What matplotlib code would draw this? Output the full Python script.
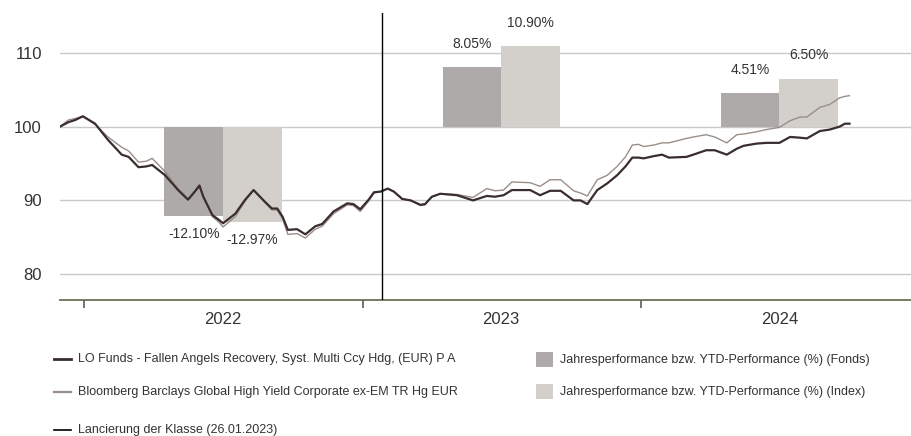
import matplotlib
matplotlib.use('Agg')
import matplotlib.pyplot as plt
import matplotlib.dates as mdates
from matplotlib.lines import Line2D
from matplotlib.patches import Rectangle
import numpy as np
import pandas as pd

plt.rcParams['font.family'] = ['Liberation Sans', 'DejaVu Sans']

# fund and index, rebased to 100
dates = ['2021-11-30', '2021-12-11', '2021-12-20', '2021-12-30', '2022-01-15', '2022-02-01',
         '2022-02-19', '2022-02-28', '2022-03-13', '2022-03-23', '2022-03-31', '2022-04-17',
         '2022-05-04', '2022-05-17', '2022-05-26', '2022-06-01', '2022-06-06', '2022-06-18',
         '2022-06-26', '2022-07-02', '2022-07-18', '2022-07-31', '2022-08-11', '2022-08-26',
         '2022-09-04', '2022-09-11', '2022-09-18', '2022-09-25', '2022-10-07', '2022-10-18',
         '2022-10-31', '2022-11-09', '2022-11-24', '2022-12-12', '2022-12-20', '2022-12-29',
         '2023-01-09', '2023-01-16', '2023-01-25', '2023-02-03', '2023-02-11', '2023-02-22',
         '2023-03-05', '2023-03-18', '2023-03-24', '2023-04-02', '2023-04-13', '2023-05-05',
         '2023-05-26', '2023-06-13', '2023-06-24', '2023-07-05', '2023-07-16', '2023-08-09',
         '2023-08-22', '2023-09-04', '2023-09-18', '2023-10-05', '2023-10-14', '2023-10-23',
         '2023-11-05', '2023-11-18', '2023-12-01', '2023-12-12', '2023-12-21', '2023-12-29',
         '2024-01-05', '2024-01-18', '2024-01-29', '2024-02-07', '2024-03-01', '2024-03-10',
         '2024-03-27', '2024-04-07', '2024-04-23', '2024-05-06', '2024-05-15', '2024-06-01',
         '2024-06-14', '2024-07-01', '2024-07-15', '2024-07-28', '2024-08-06', '2024-08-23',
         '2024-09-05', '2024-09-18', '2024-09-25', '2024-10-01']
fund = [100.0, 100.6, 100.9, 101.4, 100.4, 98.2,
        96.2, 95.9, 94.5, 94.6, 94.8, 93.4,
        91.4, 90.1, 91.2, 92.0, 90.5, 88.0,
        87.4, 86.9, 88.2, 90.1, 91.4, 89.8,
        88.9, 88.9, 87.8, 86.0, 86.1, 85.4,
        86.5, 86.8, 88.5, 89.6, 89.5, 88.8,
        90.1, 91.1, 91.2, 91.6, 91.2, 90.2,
        90.0, 89.4, 89.5, 90.5, 90.9, 90.7,
        90.0, 90.6, 90.5, 90.7, 91.4, 91.4,
        90.7, 91.3, 91.3, 90.0, 90.0, 89.5,
        91.4, 92.3, 93.4, 94.6, 95.8, 95.8,
        95.7, 96.0, 96.2, 95.8, 95.9, 96.2,
        96.8, 96.8, 96.2, 97.0, 97.4, 97.7,
        97.8, 97.8, 98.6, 98.5, 98.4, 99.4,
        99.6, 100.0, 100.4, 100.4]
index = [100.0, 100.9, 101.1, 101.4, 100.3, 98.6,
         97.2, 96.7, 95.2, 95.3, 95.7, 93.9,
         91.6, 90.2, 91.3, 92.2, 90.6, 87.8,
         87.1, 86.4, 87.8, 89.9, 91.4, 89.7,
         88.7, 88.7, 87.5, 85.4, 85.5, 84.9,
         86.1, 86.5, 88.2, 89.4, 89.3, 88.5,
         89.9, 91.0, 91.2, 91.6, 91.2, 90.2,
         90.0, 89.3, 89.4, 90.5, 90.9, 90.8,
         90.4, 91.6, 91.3, 91.4, 92.5, 92.4,
         91.9, 92.8, 92.8, 91.3, 91.0, 90.6,
         92.8, 93.4, 94.6, 95.9, 97.5, 97.6,
         97.3, 97.5, 97.8, 97.8, 98.4, 98.6,
         98.9, 98.6, 97.8, 98.9, 99.0, 99.3,
         99.6, 99.9, 100.8, 101.3, 101.3, 102.6,
         103.0, 103.9, 104.1, 104.2]

# yearly / YTD performance in %
years = ['2022', '2023', '2024']
year_mid = ['2022-07-02', '2023-07-02', '2024-07-01']
perf_fund = [-12.10, 8.05, 4.51]
perf_index = [-12.97, 10.90, 6.50]

launch = '2023-01-26'

c_fund = '#3a2d2d'
c_index = '#9b8e88'
c_bar_fund = '#aeaaa9'
c_bar_index = '#d3cfcb'
c_text = '#333333'

dates = pd.to_datetime(dates)
mids = pd.to_datetime(year_mid)
bw = pd.Timedelta(days=77)

fig = plt.figure(figsize=(9.12, 4.36), dpi=100)
ax = fig.add_axes([60 / 912, 1 - 300 / 436, 852 / 912, 287 / 436])

ax.bar(mids - bw, perf_fund, width=bw, bottom=100, align='edge', color=c_bar_fund, zorder=2)
ax.bar(mids, perf_index, width=bw, bottom=100, align='edge', color=c_bar_index, zorder=2)

for m, pf, pi in zip(mids, perf_fund, perf_index):
    for xc, p in [(m - bw / 2, pf), (m + bw / 2, pi)]:
        off = 12 if p > 0 else -8
        ax.annotate(f'{p:.2f}%', (xc, 100 + p), xytext=(0, off), textcoords='offset points',
                    ha='center', va='bottom' if p > 0 else 'top', fontsize=10, color=c_text)

ax.plot(dates, index, color=c_index, lw=1.0, zorder=3)
ax.plot(dates, fund, color=c_fund, lw=1.6, zorder=4)
ax.axvline(pd.Timestamp(launch), color='black', lw=1.0, zorder=5)

ax.set_xlim(pd.Timestamp('2021-11-30'), pd.Timestamp('2024-12-22'))
ax.set_ylim(76.5, 115.4)
ax.set_yticks([80, 90, 100, 110])
ax.yaxis.grid(True, color='#c9c9c9', lw=1.0)
ax.set_axisbelow(True)
ax.tick_params(axis='y', length=0, pad=13, labelsize=12, labelcolor=c_text)

ax.xaxis.set_major_locator(mdates.YearLocator())
ax.xaxis.set_major_formatter(plt.NullFormatter())
ax.set_xticks(mids, minor=True)
ax.set_xticklabels(years, minor=True)
ax.tick_params(axis='x', which='major', length=6, width=1.2, color='#5e5e48', direction='out')
ax.tick_params(axis='x', which='minor', length=0, pad=9, labelsize=12, labelcolor=c_text)

for s in ['top', 'right', 'left']:
    ax.spines[s].set_visible(False)
ax.spines['bottom'].set_color('#6e6e58')
ax.spines['bottom'].set_linewidth(1.3)

# legend
def fy(y):
    return 1 - y / 436

leg_lines = [(359, c_fund, 2.0, 'LO Funds - Fallen Angels Recovery, Syst. Multi Ccy Hdg, (EUR) P A'),
             (392, c_index, 1.6, 'Bloomberg Barclays Global High Yield Corporate ex-EM TR Hg EUR'),
             (430, 'black', 1.2, 'Lancierung der Klasse (26.01.2023)')]
for y, c, w, t in leg_lines:
    fig.add_artist(Line2D([54 / 912, 71 / 912], [fy(y), fy(y)], color=c, lw=w))
    fig.text(78 / 912, fy(y), t, va='center', ha='left', fontsize=9, color=c_text)

leg_boxes = [(352, c_bar_fund, 'Jahresperformance bzw. YTD-Performance (%) (Fonds)'),
             (384, c_bar_index, 'Jahresperformance bzw. YTD-Performance (%) (Index)')]
for y, c, t in leg_boxes:
    fig.add_artist(Rectangle((536 / 912, fy(y + 15)), 17 / 912, 15 / 436, color=c, lw=0))
    fig.text(560 / 912, fy(y + 7.5), t, va='center', ha='left', fontsize=9, color=c_text)

fig.savefig('out.png', dpi=100)
